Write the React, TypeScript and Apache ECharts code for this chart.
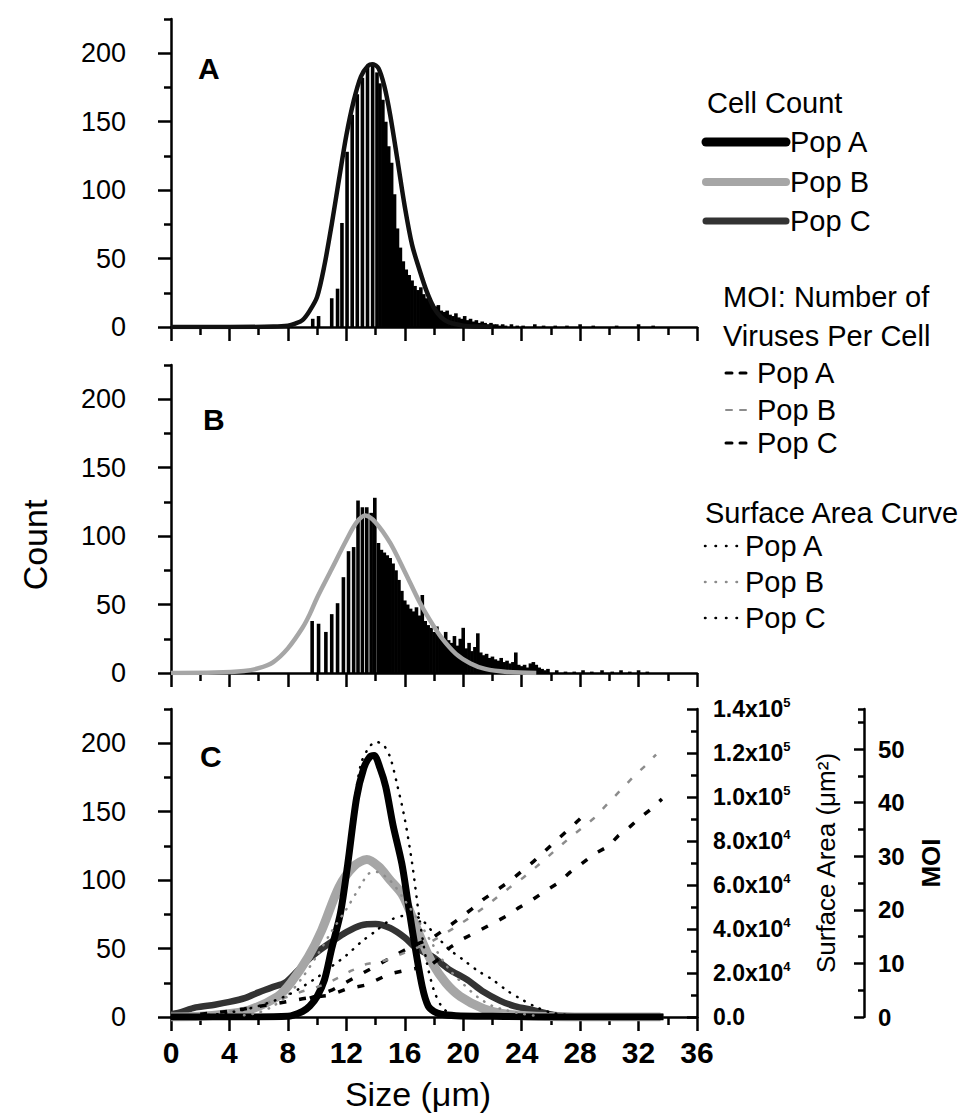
import React, { useEffect, useRef } from "react";
import * as echarts from "echarts";

// ---------- Panel A: Pop A histogram and fitted curve ----------
const histASizes = [9.7, 10.1, 11.0, 11.4, 11.7, 12.05, 12.4, 12.75, 13.1, 13.45, 13.8, 14.1,
  14.3, 14.5, 14.7, 14.9, 15.1, 15.3, 15.5, 15.7, 15.9, 16.1,
  16.3, 16.5, 16.7, 16.9, 17.1, 17.3, 17.5, 17.7, 17.9, 18.1,
  18.3, 18.5, 18.7, 18.9, 19.1, 19.3, 19.5, 19.7, 19.9, 20.1,
  20.3, 20.5, 20.7, 20.9, 21.1, 21.3, 21.5, 21.7, 21.9, 22.1,
  22.3, 22.5, 22.7, 22.9,
  23.3, 23.7, 24.1, 24.9, 25.5, 26.3, 27.1, 28.0, 28.9, 30.5, 32.0, 33.0];
const histACounts = [6, 8, 21, 28, 76, 128, 155, 170, 182, 190, 193, 186,
  178, 166, 150, 132, 120, 97, 72, 58, 48, 42,
  38, 34, 30, 27, 29, 24, 21, 19, 17, 15,
  16, 12, 11, 12, 9, 8, 10, 7, 6, 8,
  5, 6, 4, 5, 3, 4, 3, 2, 3, 2,
  2, 1, 2, 1,
  2, 1, 1, 2, 1, 1, 1, 2, 1, 1, 2, 1];
const fitASizes = [0, 4, 7, 8, 8.5, 9, 9.5, 10, 10.5, 11, 11.5, 12, 12.5, 13, 13.5, 13.8, 14.2, 14.6, 15, 15.5, 16, 16.5, 17, 17.5, 18, 18.5, 19, 20, 21, 22];
const fitACounts = [0, 0, 0.3, 1, 2.5, 5, 12, 22, 45, 75, 108, 140, 165, 183, 191, 192, 189, 176, 155, 122, 88, 60, 42, 26, 14, 7, 3.5, 1, 0.3, 0];

// ---------- Panel B: Pop B histogram and fitted curve ----------
const histBSizes = [9.66, 10.1, 10.6, 11.0, 11.4, 11.8, 12.15, 12.5, 12.8, 13.1, 13.4, 13.7, 13.95,
  14.2, 14.4, 14.6, 14.8, 15.0, 15.2, 15.4, 15.6, 15.8, 16.0,
  16.2, 16.4, 16.6, 16.8, 17.0, 17.2, 17.4, 17.6, 17.8, 18.0,
  18.2, 18.4, 18.6, 18.8, 19.0, 19.2, 19.4, 19.6, 19.8, 20.0,
  20.2, 20.4, 20.6, 20.8, 21.0, 21.2, 21.4, 21.6, 21.8, 22.0,
  22.2, 22.4, 22.6, 22.8, 23.0, 23.2, 23.4, 23.6, 23.8, 24.0,
  24.2, 24.4, 24.6, 24.8, 25.0, 25.2, 25.4, 25.6, 25.8,
  26.4, 27.0, 27.6, 28.2, 28.8, 29.5, 30.2, 30.8, 31.4, 32.0, 32.6];
const histBCounts = [38, 36, 30, 43, 51, 70, 89, 92, 126, 121, 121, 117, 128,
  95, 90, 88, 86, 84, 80, 75, 68, 60, 53,
  50, 47, 45, 48, 42, 57, 38, 35, 33, 30,
  34, 28, 26, 30, 24, 22, 27, 20, 25, 33,
  18, 22, 16, 19, 29, 15, 13, 14, 11, 12,
  10, 9, 11, 8, 9, 7, 8, 15, 6, 5,
  6, 4, 7, 8, 6, 4, 3, 2, 3,
  2, 1, 1, 2, 1, 2, 1, 2, 1, 2, 1];
const fitBSizes = [0, 3, 5, 6, 7, 8, 9, 9.5, 10, 11, 12, 12.7, 13.3, 14, 15, 16, 17, 17.7, 18.5, 19.5, 20.5, 21.5, 23, 25];
const fitBCounts = [0, 0.3, 1.5, 3.5, 8, 18, 33, 43, 55, 76, 97, 110, 115, 110, 95, 74, 52, 39, 26, 14, 7, 3, 0.8, 0];

// ---------- Panel C: cell counts ----------
const cSizesA = [0, 4, 8, 9, 9.5, 10, 10.5, 11, 11.6, 12.1, 12.7, 13.2, 13.6, 13.9, 14.3, 14.7, 15.2, 15.8, 16.2, 16.6, 17.2, 17.6, 18, 18.5, 19.5, 22, 26, 30, 33.7];
const cCountA = [0, 0, 0.5, 4, 8, 15, 27, 50, 76, 112, 160, 182, 190, 191, 182, 168, 140, 112, 85, 58, 22, 8, 4, 2, 1, 0.5, 0, 0, 0];
const cSizesB = [0, 2, 3.6, 5.3, 7.3, 8.2, 9.4, 10.3, 11.5, 12.5, 13.4, 14.2, 15, 15.8, 16.4, 17.2, 17.9, 18.8, 19.8, 21.4, 23, 25, 28, 33.5];
const cCountB = [0, 0.5, 2, 5, 15, 25, 44, 63, 95, 110, 115, 110, 100, 90, 76, 55, 39, 25, 15, 6, 2, 0.5, 0, 0];
const cSizesC = [0, 0.5, 1.7, 3, 4, 5.1, 6, 7, 7.8, 8.6, 9.4, 10.2, 11, 12, 13, 14, 15, 16, 16.7, 17.9, 19, 20.3, 21.3, 22.5, 23.5, 24.8, 26.2, 28, 30, 33.7];
const cCountC = [2, 3, 7, 9, 11, 14, 18, 22, 25, 33, 42, 49, 55, 62, 67, 68, 65, 58, 51, 44, 35, 27, 19, 12, 8, 5, 1.5, 0.5, 0, 0];

// ---------- Panel C: MOI (viruses per cell) ----------
const moiASizes = [9.5, 10.3, 11, 12, 13, 14, 15, 16, 17, 17.9, 18.8, 19.8, 20.6, 21.4, 22.3, 23.2, 24, 24.8, 25.6, 26.4, 27.2, 28];
const moiAValues = [3.5, 4.3, 5, 6.5, 8, 9.5, 11, 12.5, 13.8, 14.8, 16.5, 18.5, 20.2, 22, 23.7, 25.4, 27.2, 29, 31, 33, 35, 37];
const moiBSizes = [4, 5, 6, 7, 8, 9, 10, 10.6, 11.5, 12.3, 13.4, 14.6, 15.8, 16.9, 17.9, 19.3, 20.7, 21.7, 22.6, 23.4, 24.1, 24.9, 25.7, 26.5, 27.3, 28.1, 28.9, 29.6, 30.3, 31, 31.7, 32.5, 33.2];
const moiBValues = [1, 1.5, 2.2, 3, 3.8, 4.8, 5.6, 6.2, 7.4, 8.6, 9.9, 10.5, 11.8, 13, 14.2, 16.5, 19, 21, 23, 24.6, 26, 27.8, 29.7, 31.6, 33.5, 35.2, 37, 39, 41, 43, 45, 47, 49];
const moiCSizes = [2, 3, 4, 5, 6, 7, 8, 9, 10, 10.8, 12, 13.4, 14.9, 16.2, 17.7, 18.4, 19.1, 20, 21, 22.1, 23, 23.8, 24.8, 25.6, 26.5, 27.3, 28.1, 29, 29.9, 30.6, 31.4, 32.1, 32.9, 33.6];
const moiCValues = [0.5, 0.8, 1.1, 1.5, 2, 2.4, 2.9, 3.4, 3.8, 4, 5.2, 6, 8, 8.8, 9.5, 11, 13, 14.6, 16, 17.6, 18.9, 20.4, 22, 23.5, 25, 27, 28.6, 30.5, 31.8, 33.8, 35.5, 37.2, 38.9, 40.7];

// ---------- Panel C: surface area curves ----------
const saASizes = [8.5, 9, 10, 10.5, 11, 11.5, 12, 12.5, 13, 13.5, 14, 14.5, 15, 15.5, 16, 16.5, 17, 17.5, 18, 18.5, 19, 20];
const saAValues = [1000, 2500, 8000, 15000, 30000, 45000, 70000, 95000, 115000, 122000, 125000, 124000, 118000, 105000, 90000, 70000, 45000, 25000, 12000, 5000, 2000, 500];
const saBSizes = [5, 6, 7, 8, 9, 10, 11, 12, 13, 13.5, 14, 15, 16, 17, 18, 19, 20, 21, 22, 23, 24, 25];
const saBValues = [800, 2000, 5000, 10000, 18000, 28000, 39000, 49000, 60000, 65000, 66000, 62000, 53000, 43000, 32000, 22000, 15000, 9000, 5000, 3000, 1500, 500];
const saCSizes = [2, 4, 6, 8, 10, 11, 12, 13, 14, 15, 16, 17, 18, 19, 20, 21, 22, 23, 24, 25, 26, 27];
const saCValues = [500, 2000, 5000, 10000, 18000, 23000, 28000, 34000, 39000, 44000, 46000, 45000, 38000, 31000, 26000, 21000, 17000, 12000, 8000, 4500, 2000, 1000];

// ---------- Tick values ----------
const countTicks = [0, 50, 100, 150, 200];
const countMinorTicks = [25, 75, 125, 175, 225];
const moiTicks = [0, 10, 20, 30, 40, 50];
const moiMinorTicks = [5, 15, 25, 35, 45, 55, 57.5];

const FONT = '"Liberation Sans", Arial, Helvetica, sans-serif';
const NARROW = '"Liberation Sans Narrow", "Arial Narrow", "Liberation Sans", Arial, sans-serif';
const BLACK = "#000";
const GRAY = "#a6a6a6";
const DARK = "#333";

const zip = (xs: number[], ys: number[]) => xs.map((x, i) => [x, ys[i]]);

const axisLineStyle = { color: BLACK, width: 2.5 };

function xAxisFor(gi: number, withLabels: boolean) {
  const ax: any = {
    type: "value",
    gridIndex: gi,
    min: 0,
    max: 36,
    interval: 4,
    axisLine: { show: true, onZero: false, lineStyle: axisLineStyle },
    axisTick: { show: true, length: 14, lineStyle: axisLineStyle },
    minorTick: { show: true, splitNumber: 2, length: 8, lineStyle: axisLineStyle },
    splitLine: { show: false },
    minorSplitLine: { show: false },
    axisLabel: {
      show: withLabels,
      margin: 20,
      fontSize: 30,
      fontWeight: "bold",
      fontFamily: NARROW,
      color: BLACK,
    },
  };
  if (withLabels) {
    ax.name = "Size (\u03bcm)";
    ax.nameLocation = "middle";
    ax.nameGap = 60;
    ax.nameTextStyle = { fontSize: 34, fontFamily: FONT, color: BLACK, padding: [0, 32, 0, 0] };
  }
  return ax;
}

function yLeftFor(gi: number) {
  return {
    type: "value",
    gridIndex: gi,
    position: "left",
    min: 0,
    max: 225,
    interval: 50,
    axisLine: { show: true, onZero: false, lineStyle: axisLineStyle },
    axisTick: { show: true, length: 13, customValues: countTicks, lineStyle: axisLineStyle },
    axisLabel: {
      show: true,
      customValues: countTicks,
      margin: 45,
      fontSize: 27,
      fontFamily: FONT,
      color: BLACK,
    },
    splitLine: { show: false },
  };
}

function yLeftMinorFor(gi: number) {
  return {
    type: "value",
    gridIndex: gi,
    position: "left",
    min: 0,
    max: 225,
    interval: 25,
    axisLine: { show: false },
    axisTick: { show: true, length: 7, customValues: countMinorTicks, lineStyle: axisLineStyle },
    axisLabel: { show: false },
    splitLine: { show: false },
  };
}

function saLabel(v: number) {
  if (v === 0) return "{m|0.0}";
  const e = v >= 99999 ? 5 : 4;
  const m = v / Math.pow(10, e);
  return `{m|${m.toFixed(1)}x10}{e|${e}}`;
}

export default function App() {
  const ref = useRef<HTMLDivElement>(null);

  useEffect(() => {
    if (!ref.current) return;
    const chart = echarts.init(ref.current, null, { renderer: "svg" });

    const legendFont = `29px ${FONT}`;
    const txt = (text: string, x: number, y: number, font = legendFont) => ({
      type: "text",
      x,
      y,
      style: { text, font, fill: BLACK, align: "left", verticalAlign: "middle" },
    });
    const seg = (x1: number, x2: number, y: number, stroke: string, lineWidth: number, lineDash?: number[]) => ({
      type: "line",
      shape: { x1, y1: y, x2, y2: y },
      style: { stroke, lineWidth, lineCap: "round", lineDash },
    });

    const option: any = {
      animation: false,
      backgroundColor: "#fff",
      grid: [
        { left: 171, top: 19, width: 526, height: 308, containLabel: false, outerBoundsMode: "none" },
        { left: 171, top: 365, width: 526, height: 308, containLabel: false, outerBoundsMode: "none" },
        { left: 171, top: 709, width: 526, height: 308, containLabel: false, outerBoundsMode: "none" },
      ],
      xAxis: [xAxisFor(0, false), xAxisFor(1, false), xAxisFor(2, true)],
      yAxis: [
        yLeftFor(0),
        yLeftMinorFor(0),
        yLeftFor(1),
        yLeftMinorFor(1),
        yLeftFor(2),
        yLeftMinorFor(2),
        {
          type: "value",
          gridIndex: 2,
          position: "right",
          min: 0,
          max: 140000,
          interval: 20000,
          axisLine: { show: true, onZero: false, lineStyle: axisLineStyle },
          axisTick: { show: true, inside: true, length: 10, lineStyle: axisLineStyle },
          minorTick: { show: true, splitNumber: 2, length: 6, lineStyle: axisLineStyle },
          splitLine: { show: false },
          minorSplitLine: { show: false },
          axisLabel: {
            margin: 16,
            formatter: saLabel,
            rich: {
              m: { fontSize: 23, fontWeight: "bold", fontFamily: FONT, color: BLACK, lineHeight: 26 },
              e: { fontSize: 13, fontWeight: "bold", fontFamily: FONT, color: BLACK, lineHeight: 13, verticalAlign: "top" },
            },
          },
          name: "Surface Area (\u03bcm\u00b2)",
          nameLocation: "middle",
          nameGap: 116,
          nameTextStyle: { fontSize: 26, fontFamily: FONT, color: BLACK },
        },
        {
          type: "value",
          gridIndex: 2,
          position: "right",
          offset: 167,
          min: 0,
          max: 57.5,
          interval: 10,
          axisLine: { show: true, onZero: false, lineStyle: axisLineStyle },
          axisTick: { show: true, inside: true, length: 10, customValues: moiTicks, lineStyle: axisLineStyle },
          axisLabel: {
            customValues: moiTicks,
            margin: 14,
            fontSize: 24,
            fontWeight: "bold",
            fontFamily: FONT,
            color: BLACK,
          },
          splitLine: { show: false },
          name: "MOI",
          nameLocation: "middle",
          nameGap: 54,
          nameTextStyle: { fontSize: 26, fontWeight: "bold", fontFamily: FONT, color: BLACK },
        },
        {
          type: "value",
          gridIndex: 2,
          position: "right",
          offset: 167,
          min: 0,
          max: 57.5,
          interval: 5,
          axisLine: { show: false },
          axisTick: { show: true, inside: true, length: 6, customValues: moiMinorTicks, lineStyle: axisLineStyle },
          axisLabel: { show: false },
          splitLine: { show: false },
        },
      ],
      series: [
        {
          name: "Pop A histogram",
          type: "bar",
          xAxisIndex: 0,
          yAxisIndex: 0,
          barWidth: 3.6,
          itemStyle: { color: BLACK },
          data: zip(histASizes, histACounts),
        },
        {
          name: "Pop A fit",
          type: "line",
          xAxisIndex: 0,
          yAxisIndex: 0,
          smooth: 0.3,
          showSymbol: false,
          lineStyle: { color: "#111", width: 4.5 },
          data: zip(fitASizes, fitACounts),
          z: 3,
        },
        {
          name: "Pop B histogram",
          type: "bar",
          xAxisIndex: 1,
          yAxisIndex: 2,
          barWidth: 3.6,
          itemStyle: { color: BLACK },
          data: zip(histBSizes, histBCounts),
        },
        {
          name: "Pop B fit",
          type: "line",
          xAxisIndex: 1,
          yAxisIndex: 2,
          smooth: 0.3,
          showSymbol: false,
          lineStyle: { color: GRAY, width: 4.5 },
          data: zip(fitBSizes, fitBCounts),
          z: 3,
        },
        {
          name: "Cell Count Pop C",
          type: "line",
          xAxisIndex: 2,
          yAxisIndex: 4,
          smooth: 0.3,
          showSymbol: false,
          lineStyle: { color: DARK, width: 6.5 },
          data: zip(cSizesC, cCountC),
        },
        {
          name: "Cell Count Pop B",
          type: "line",
          xAxisIndex: 2,
          yAxisIndex: 4,
          smooth: 0.3,
          showSymbol: false,
          lineStyle: { color: GRAY, width: 9 },
          data: zip(cSizesB, cCountB),
        },
        {
          name: "Cell Count Pop A",
          type: "line",
          xAxisIndex: 2,
          yAxisIndex: 4,
          smooth: 0.3,
          showSymbol: false,
          lineStyle: { color: BLACK, width: 7 },
          data: zip(cSizesA, cCountA),
        },
        {
          name: "MOI Pop A",
          type: "line",
          xAxisIndex: 2,
          yAxisIndex: 7,
          showSymbol: false,
          lineStyle: { color: BLACK, width: 3.5, type: [7, 13] },
          data: zip(moiASizes, moiAValues),
          z: 4,
        },
        {
          name: "MOI Pop B",
          type: "line",
          xAxisIndex: 2,
          yAxisIndex: 7,
          showSymbol: false,
          lineStyle: { color: "#8c8c8c", width: 2.5, type: [6, 12] },
          data: zip(moiBSizes, moiBValues),
          z: 4,
        },
        {
          name: "MOI Pop C",
          type: "line",
          xAxisIndex: 2,
          yAxisIndex: 7,
          showSymbol: false,
          lineStyle: { color: BLACK, width: 3.5, type: [7, 13] },
          data: zip(moiCSizes, moiCValues),
          z: 4,
        },
        {
          name: "Surface Area Pop A",
          type: "line",
          xAxisIndex: 2,
          yAxisIndex: 6,
          smooth: 0.3,
          showSymbol: false,
          lineStyle: { color: BLACK, width: 2.5, type: [0.5, 8], cap: "round" },
          data: zip(saASizes, saAValues),
          z: 4,
        },
        {
          name: "Surface Area Pop B",
          type: "line",
          xAxisIndex: 2,
          yAxisIndex: 6,
          smooth: 0.3,
          showSymbol: false,
          lineStyle: { color: "#8c8c8c", width: 2.5, type: [0.5, 8], cap: "round" },
          data: zip(saBSizes, saBValues),
          z: 4,
        },
        {
          name: "Surface Area Pop C",
          type: "line",
          xAxisIndex: 2,
          yAxisIndex: 6,
          smooth: 0.3,
          showSymbol: false,
          lineStyle: { color: BLACK, width: 2.5, type: [0.5, 8], cap: "round" },
          data: zip(saCSizes, saCValues),
          z: 4,
        },
      ],
      graphic: [
        txt("A", 198, 68, `bold 30px ${FONT}`),
        txt("B", 203, 419, `bold 30px ${FONT}`),
        txt("C", 200, 756, `bold 30px ${FONT}`),
        {
          type: "text",
          x: 35,
          y: 545,
          rotation: Math.PI / 2,
          style: { text: "Count", font: `34px ${FONT}`, fill: BLACK, align: "center", verticalAlign: "middle" },
        },
        // Cell Count legend
        txt("Cell Count", 707, 103),
        seg(706, 786, 142, BLACK, 9),
        txt("Pop A", 790, 142),
        seg(706, 786, 182, GRAY, 8),
        txt("Pop B", 790, 182),
        seg(706, 786, 221, DARK, 7),
        txt("Pop C", 790, 221),
        // MOI legend
        txt("MOI: Number of", 723, 297),
        txt("Viruses Per Cell", 723, 336),
        seg(726, 732, 373, BLACK, 3),
        seg(740, 746, 373, BLACK, 3),
        txt("Pop A", 757, 373),
        seg(726, 732, 410, "#8c8c8c", 2),
        seg(740, 746, 410, "#8c8c8c", 2),
        txt("Pop B", 757, 410),
        seg(726, 732, 443, BLACK, 3),
        seg(740, 746, 443, BLACK, 3),
        txt("Pop C", 757, 443),
        // Surface area legend
        txt("Surface Area Curve", 705, 513),
        seg(705, 741, 546, BLACK, 2.5, [0.5, 10]),
        txt("Pop A", 745, 546),
        seg(705, 741, 582, "#8c8c8c", 2.5, [0.5, 10]),
        txt("Pop B", 745, 582),
        seg(705, 741, 618, BLACK, 2.5, [0.5, 10]),
        txt("Pop C", 745, 618),
      ],
    };

    chart.setOption(option);
    return () => chart.dispose();
  }, []);

  return (
    <div
      ref={ref}
      style={{ position: "fixed", left: 0, top: 0, width: 970, height: 1117, background: "#fff" }}
    />
  );
}
